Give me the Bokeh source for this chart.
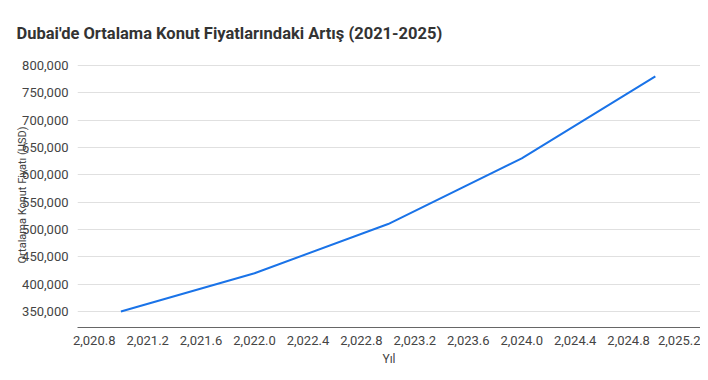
from bokeh.plotting import figure
from bokeh.models import FixedTicker, NumeralTickFormatter, Range1d
from bokeh.embed import file_html
from bokeh.resources import INLINE

title_text = "Dubai'de Ortalama Konut Fiyatlarındaki Artış (2021-2025)"
years = [2021, 2022, 2023, 2024, 2025]
prices = [350000, 420000, 510000, 630000, 780000]
x_ticks = [2020.8, 2021.2, 2021.6, 2022.0, 2022.4, 2022.8, 2023.2, 2023.6, 2024.0, 2024.4, 2024.8, 2025.2]
y_ticks = [350000, 400000, 450000, 500000, 550000, 600000, 650000, 700000, 750000, 800000]

p = figure(width=700, height=372, output_backend="svg", toolbar_location=None,
           x_range=Range1d(2020.675, 2025.338), y_range=Range1d(320700, 805500),
           min_border_left=77, min_border_right=0, min_border_top=62, min_border_bottom=45)

p.title.text = title_text
p.title.text_font = "Roboto"
p.title.text_font_size = "16.5px"
p.title.text_font_style = "bold"
p.title.text_color = "#333333"
p.title.align = "left"
p.title.offset = -61
p.title.standoff = 40

p.line(years, prices, line_color="#1a73e8", line_width=2)

p.xaxis.ticker = FixedTicker(ticks=x_ticks)
p.xaxis.formatter = NumeralTickFormatter(format="0,0.0")
p.yaxis.ticker = FixedTicker(ticks=y_ticks)
p.yaxis.formatter = NumeralTickFormatter(format="0,0")

for ax in (p.xaxis[0], p.yaxis[0]):
    ax.major_tick_line_color = None
    ax.minor_tick_line_color = None
    ax.major_label_text_font = "Roboto"
    ax.major_label_text_font_size = "13px"
    ax.major_label_text_color = "#444444"
    ax.axis_label_text_font = "Roboto"
    ax.axis_label_text_font_style = "normal"
    ax.axis_label_text_color = "#444444"

p.xaxis.axis_label = "Yıl"
p.xaxis.axis_label_text_font_size = "12px"
p.xaxis.axis_line_color = "#666666"
p.xaxis.major_label_standoff = 2
p.xaxis.axis_label_standoff = 4

p.yaxis.axis_label = "Ortalama Konut Fiyatı (USD)"
p.yaxis.axis_label_text_font_size = "11px"
p.yaxis.axis_line_color = None
p.yaxis.major_label_standoff = 3
p.yaxis.axis_label_standoff = -10

p.xgrid.grid_line_color = None
p.ygrid.grid_line_color = "#e0e0e0"
p.outline_line_color = None

open("out.html", "w").write(file_html(p, INLINE))
